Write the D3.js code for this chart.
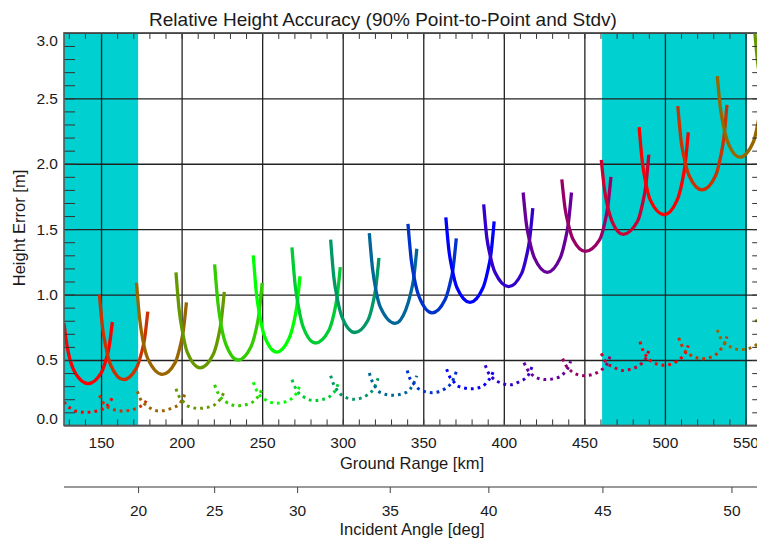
<!DOCTYPE html>
<html>
<head>
<meta charset="utf-8">
<script src="https://cdn.jsdelivr.net/npm/d3@7"></script>
<style>
body { margin: 0; background: #fff; }
text { font-family: "Liberation Sans", Arial, sans-serif; fill: #1a1a1a; }
</style>
</head>
<body>
<svg id="chart"></svg>
<script>
// one colour per beam, cycling red -> green -> blue -> red
let beamColors = ['#ff0000', '#cc3300', '#996600', '#669900', '#33cc00', '#00ff00', '#00cc33',
    '#009966', '#006699', '#0033cc', '#0000ff', '#3300cc', '#660099', '#990066', '#cc0033',
    '#ff0000', '#cc3300', '#996600', '#669900'];

// 90% point-to-point error per beam: [ground range km, height error m]
let p2pCurves = [
    [[127,.78],[129,.60],[131,.49],[134,.40],[142,.32],[150,.40],[153,.50],[155,.60],[157,.79]],
    [[149,1.00],[151,.74],[153,.60],[156,.46],[164,.35],[172,.44],[175,.55],[177,.66],[179,.87]],
    [[172,1.09],[174,.81],[176,.65],[179,.51],[188,.39],[196,.48],[199,.60],[201,.72],[203,.94]],
    [[196.5,1.17],[198.5,.88],[200.5,.72],[203.5,.56],[211.5,.44],[219.5,.54],[222.5,.66],[224.5,.79],[226.5,1.02]],
    [[220.5,1.23],[222.5,.94],[224.5,.77],[227.5,.62],[235,.50],[243,.60],[246,.72],[248,.85],[250,1.09]],
    [[244.5,1.30],[246.5,1.00],[248.5,.84],[251.5,.68],[259,.56],[266.5,.66],[269.5,.78],[271.5,.91],[273.5,1.14]],
    [[268.5,1.36],[270.5,1.07],[272.5,.91],[275.5,.75],[283,.63],[291.5,.73],[294.5,.85],[296.5,.98],[298.5,1.21]],
    [[292.5,1.42],[294.5,1.13],[296.5,.98],[299.5,.83],[307.5,.71],[315.5,.80],[318.5,.92],[320.5,1.05],[322.5,1.28]],
    [[316.5,1.47],[318.5,1.20],[320.5,1.04],[323.5,.90],[332.5,.78],[339,.88],[342,1.00],[344,1.12],[346,1.35]],
    [[340.5,1.54],[342.5,1.27],[344.5,1.12],[347.5,.98],[355.5,.86],[363.5,.96],[366.5,1.08],[368.5,1.20],[370.5,1.43]],
    [[364,1.59],[366,1.33],[368,1.19],[371,1.05],[379,.94],[387,1.05],[390,1.18],[392,1.31],[394,1.56]],
    [[387.5,1.69],[389.5,1.43],[391.5,1.30],[394.5,1.17],[403,1.06],[411,1.16],[414,1.29],[416,1.42],[418,1.66]],
    [[412,1.78],[414,1.54],[416,1.41],[419,1.28],[427,1.17],[435,1.28],[438,1.41],[440,1.54],[442,1.78]],
    [[436,1.88],[438,1.66],[440,1.54],[443,1.42],[450.5,1.33],[459.5,1.42],[462.5,1.54],[464.5,1.67],[466.5,1.90]],
    [[460.5,2.03],[462.5,1.80],[464.5,1.67],[467.5,1.55],[474,1.46],[483,1.56],[486,1.69],[488,1.82],[490,2.07]],
    [[484,2.28],[486,2.01],[488,1.86],[491,1.72],[499.5,1.61],[507.5,1.72],[510.5,1.85],[512.5,1.99],[514.5,2.24]],
    [[508,2.44],[510,2.18],[512,2.04],[515,1.91],[523,1.80],[531.5,1.91],[534.5,2.05],[536.5,2.19],[538.5,2.45]],
    [[532.5,2.67],[534.5,2.42],[536.5,2.28],[539.5,2.15],[546.5,2.05],[555,2.17],[558,2.33],[560,2.47],[562,2.72]],
    [[555.5,3.05],[557.5,2.78],[559.5,2.62],[562.5,2.48],[571,2.36],[579,2.48],[582,2.62],[584,2.78],[586,3.05]]
];

// standard deviation per beam
let stdvCurves = [
    [[127,.18],[129,.15],[131,.13],[134,.11],[141,.10],[150,.12],[153,.14],[155,.17],[157,.21]],
    [[149,.23],[151,.18],[153,.15],[156,.13],[163,.11],[172,.13],[175,.15],[177,.17],[179,.21]],
    [[172.5,.26],[174.5,.20],[176.5,.17],[179.5,.14],[186,.11],[195.5,.14],[198.5,.16],[200.5,.20],[202.5,.25]],
    [[196.5,.28],[198.5,.22],[200.5,.19],[203.5,.15],[210.5,.13],[219.5,.15],[222.5,.18],[224.5,.21],[226.5,.26]],
    [[220.5,.31],[222.5,.25],[224.5,.21],[227.5,.18],[234.5,.15],[243,.17],[246,.20],[248,.23],[250,.28]],
    [[244.5,.33],[246.5,.27],[248.5,.23],[251.5,.20],[259,.17],[266.5,.19],[269.5,.22],[271.5,.25],[273.5,.31]],
    [[268.5,.35],[270.5,.29],[272.5,.25],[275.5,.22],[282,.19],[290.5,.21],[293.5,.24],[295.5,.27],[297.5,.33]],
    [[292.5,.38],[294.5,.31],[296.5,.27],[299.5,.23],[307,.20],[315,.23],[318,.26],[320,.30],[322,.36]],
    [[316.5,.40],[318.5,.33],[320.5,.29],[323.5,.25],[331,.23],[339,.25],[342,.28],[344,.32],[346,.38]],
    [[340,.42],[342,.35],[344,.32],[347,.28],[355.5,.25],[363.5,.28],[366.5,.31],[368.5,.35],[370.5,.41]],
    [[364.5,.43],[366.5,.37],[368.5,.34],[371.5,.30],[380,.28],[387,.30],[390,.34],[392,.37],[394,.43]],
    [[388.5,.46],[390.5,.40],[392.5,.37],[395.5,.34],[404,.31],[410.5,.34],[413.5,.36],[415.5,.39],[417.5,.45]],
    [[412.5,.48],[414.5,.43],[416.5,.40],[419.5,.37],[426,.35],[434.5,.37],[437.5,.40],[439.5,.43],[441.5,.49]],
    [[436.5,.51],[438.5,.46],[440.5,.43],[443.5,.40],[450,.38],[459,.41],[462,.44],[464,.47],[466,.53]],
    [[460.5,.55],[462.5,.50],[464.5,.47],[467.5,.45],[473.5,.42],[483,.45],[486,.48],[488,.51],[490,.57]],
    [[484.5,.64],[486.5,.57],[488.5,.53],[491.5,.49],[499.5,.46],[507.5,.49],[510.5,.52],[512.5,.55],[514.5,.61]],
    [[508.5,.67],[510.5,.61],[512.5,.57],[515.5,.54],[523.5,.51],[531.5,.54],[534.5,.58],[536.5,.61],[538.5,.68]],
    [[532.5,.73],[534.5,.67],[536.5,.64],[539.5,.61],[546.5,.58],[555,.60],[558,.63],[560,.65],[562,.70]],
    [[556.5,.81],[558.5,.75],[560.5,.72],[563.5,.69],[571,.66],[579,.69],[582,.72],[584,.75],[586,.80]]
];

let rangeTicks = [150, 200, 250, 300, 350, 400, 450, 500, 550];
let heightTicks = [0, 0.5, 1.0, 1.5, 2.0, 2.5, 3.0];
let angleTicks = [20, 25, 30, 35, 40, 45, 50];
let angleTickRange = [173.0, 220.2, 271.7, 329.2, 390.4, 461.2, 541.3];  // km at each angle
let shadedRanges = [[127, 173], [461, 551]];

let svgWidth = 757, svgHeight = 540;
let plotLeft = 64, plotRight = 763.2, plotTop = 32.9, plotBottom = 425.4;

let svg = d3.select('#chart')
    .attr('width', svgWidth)
    .attr('height', svgHeight);

let x = d3.scaleLinear().domain([127, 561]).range([plotLeft, plotRight]);
let y = d3.scaleLinear().domain([0, 3]).range([plotBottom, plotTop]);
let angleScale = d3.scaleLinear()
    .domain(angleTicks)
    .range(angleTickRange.map(d => x(d)));

svg.append('clipPath').attr('id', 'plotClip')
    .append('rect')
    .attr('x', plotLeft).attr('y', plotTop)
    .attr('width', plotRight - plotLeft).attr('height', plotBottom - plotTop);

// shaded swath limits
svg.selectAll('rect.shade')
    .data(shadedRanges)
    .enter()
    .append('rect')
    .attr('class', 'shade')
    .attr('x', d => x(d[0]))
    .attr('y', plotTop)
    .attr('width', d => x(d[1]) - x(d[0]))
    .attr('height', plotBottom - plotTop)
    .attr('fill', '#00d0d0');

function styleAxis(g, color, width) {
    g.select('.domain').remove();
    g.selectAll('.tick line').attr('stroke', color).attr('stroke-width', width);
}

// grid
svg.append('g')
    .attr('transform', 'translate(0,' + plotBottom + ')')
    .call(d3.axisBottom(x).tickValues(rangeTicks).tickSize(-(plotBottom - plotTop)).tickFormat(''))
    .call(g => styleAxis(g, '#222', 1.3));
svg.append('g')
    .attr('transform', 'translate(' + plotLeft + ',0)')
    .call(d3.axisLeft(y).tickValues(heightTicks).tickSize(-(plotRight - plotLeft)).tickFormat(''))
    .call(g => styleAxis(g, '#222', 1.3));

// curves
let line = d3.line()
    .x(d => x(d[0]))
    .y(d => y(d[1]))
    .curve(d3.curveMonotoneX);

let curves = svg.append('g').attr('clip-path', 'url(#plotClip)');

curves.selectAll('path.stdv')
    .data(stdvCurves)
    .enter()
    .append('path')
    .attr('class', 'stdv')
    .attr('d', line)
    .attr('fill', 'none')
    .attr('stroke', (d, i) => beamColors[i])
    .attr('stroke-width', 3)
    .attr('stroke-dasharray', '2.8,4');

curves.selectAll('path.p2p')
    .data(p2pCurves)
    .enter()
    .append('path')
    .attr('class', 'p2p')
    .attr('d', line)
    .attr('fill', 'none')
    .attr('stroke', (d, i) => beamColors[i])
    .attr('stroke-width', 3.3)
    .attr('stroke-linejoin', 'round');

// minor ticks on all four sides
let minorRange = d3.range(130, 561, 10);
let minorHeight = d3.range(1, 30).map(d => d / 10);

svg.append('g')
    .attr('transform', 'translate(0,' + plotBottom + ')')
    .call(d3.axisBottom(x).tickValues(minorRange).tickSize(-6).tickFormat(''))
    .call(g => styleAxis(g, '#333', 1));
svg.append('g')
    .attr('transform', 'translate(0,' + plotTop + ')')
    .call(d3.axisTop(x).tickValues(minorRange).tickSize(-6).tickFormat(''))
    .call(g => styleAxis(g, '#333', 1));
svg.append('g')
    .attr('transform', 'translate(' + plotLeft + ',0)')
    .call(d3.axisLeft(y).tickValues(minorHeight).tickSize(-11).tickFormat(''))
    .call(g => styleAxis(g, '#333', 1));
svg.append('g')
    .attr('transform', 'translate(' + plotRight + ',0)')
    .call(d3.axisRight(y).tickValues(minorHeight).tickSize(-11).tickFormat(''))
    .call(g => styleAxis(g, '#333', 1));

// frame
svg.append('rect')
    .attr('x', plotLeft).attr('y', plotTop)
    .attr('width', plotRight - plotLeft).attr('height', plotBottom - plotTop)
    .attr('fill', 'none')
    .attr('stroke', '#555')
    .attr('stroke-width', 1.6);

// tick labels
svg.append('g')
    .attr('transform', 'translate(0,' + plotBottom + ')')
    .call(d3.axisBottom(x).tickValues(rangeTicks).tickSize(0).tickPadding(11.5).tickFormat(d3.format('d')))
    .call(g => g.select('.domain').remove())
    .call(g => g.selectAll('text').style('font-size', '15.5px').style('font-family', null));

let yLabels = svg.append('g')
    .attr('transform', 'translate(' + plotLeft + ',0)')
    .call(d3.axisLeft(y).tickValues(heightTicks).tickSize(0).tickPadding(6).tickFormat(d3.format('.1f')))
    .call(g => g.select('.domain').remove())
    .call(g => g.selectAll('text').style('font-size', '15.5px').style('font-family', null));
yLabels.selectAll('.tick text')
    .attr('y', d => d === 3 ? 8 : (d === 0 ? -7 : 0));

// secondary axis: incident angle
svg.append('line')
    .attr('x1', plotLeft).attr('x2', svgWidth)
    .attr('y1', 487).attr('y2', 487)
    .attr('stroke', '#999')
    .attr('stroke-width', 2);
svg.append('g')
    .attr('transform', 'translate(0,487)')
    .call(d3.axisBottom(angleScale).tickValues(angleTicks).tickSize(6).tickPadding(12).tickFormat(d3.format('d')))
    .call(g => g.select('.domain').remove())
    .call(g => g.selectAll('.tick line').attr('stroke', '#444'))
    .call(g => g.selectAll('text').style('font-size', '15.5px').style('font-family', null));

// titles
svg.append('text')
    .attr('x', 383).attr('y', 26)
    .attr('text-anchor', 'middle')
    .style('font-size', '19px')
    .text('Relative Height Accuracy (90% Point-to-Point and Stdv)');
svg.append('text')
    .attr('x', 412).attr('y', 469)
    .attr('text-anchor', 'middle')
    .style('font-size', '16.5px')
    .text('Ground Range [km]');
svg.append('text')
    .attr('x', 412).attr('y', 535)
    .attr('text-anchor', 'middle')
    .style('font-size', '16.5px')
    .text('Incident Angle [deg]');
svg.append('text')
    .attr('transform', 'translate(25,228) rotate(-90)')
    .attr('text-anchor', 'middle')
    .style('font-size', '16.5px')
    .text('Height Error [m]');
</script>
</body>
</html>
